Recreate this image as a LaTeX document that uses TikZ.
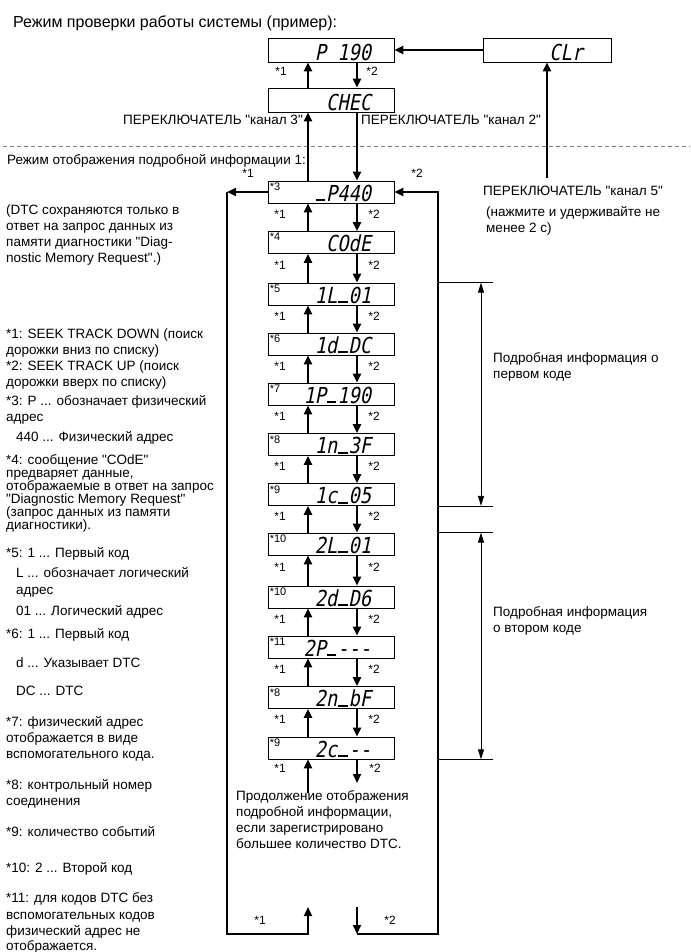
\documentclass[tikz,border=0pt]{standalone}
\usepackage{fontspec}
\setmainfont{Liberation Sans}[Ligatures=TeXOff]
\newfontfamily\segfont[FakeSlant=0.2,FakeStretch=0.85,Ligatures=TeXOff]{DejaVu Sans Mono}
\newcommand\segu{\makebox[0.512em][c]{\rule{0.42em}{0.1em}}}
\usetikzlibrary{arrows.meta,calc}
\begin{document}
\begin{tikzpicture}[x=1pt,y=-1pt,
  box/.style={draw, line width=0.7pt, minimum width=126pt, minimum height=22pt, inner sep=0},
  seg/.style={font=\segfont\fontsize{22}{22}\selectfont, anchor=base east, inner sep=0},
  arr/.style={line width=2pt, -{Triangle[length=9pt,width=8pt]}},
  ln/.style={line width=2pt},
  thinl/.style={line width=0.6pt},
  barr/.style={line width=0.8pt, {Triangle[length=10pt,width=6pt]}-{Triangle[length=10pt,width=6pt]}},
  txt/.style={font=\fontsize{13.5}{15}\selectfont, anchor=base west, inner sep=0, yshift=-4.6pt},
  txtr/.style={txt, anchor=base east},
  star/.style={font=\fontsize{12}{14}\selectfont, inner sep=0},
  tag/.style={font=\fontsize{11}{12}\selectfont, anchor=north west, inner sep=0},
]
\useasboundingbox (0,0) rectangle (690,952);

% dashed separator
\draw[gray, line width=0.8pt, dash pattern=on 4pt off 3pt] (3,146) -- (690,146);

% reference x positions
\coordinate (upx) at (308,0);
\coordinate (dnx) at (357,0);
\coordinate (lx) at (280,0);
\coordinate (rx) at (374,0);

% top boxes
\node[box, minimum height=24pt] (p190) at (331,50) {};
\node[seg] (tp190) at ($(p190.south east)+(-23,-2)$) {P 190};
\node[box, minimum height=24pt] (chec) at (331,100) {};
\node[seg] (tchec) at ($(chec.south east)+(-23,-2)$) {CHEC};
\node[box, minimum height=24pt, minimum width=128pt] (clr) at (547,50) {};
\node[seg] (tclr) at ($(clr.south east)+(-28,-2)$) {CLr};

% chain boxes
\foreach \i/\y/\t/\s in {1/192/{\segu P440}/3, 2/242.5/{COdE}/4, 3/294/{1L\segu 01}/5,
  4/344/{1d\segu DC}/6, 5/394/{1P\segu 190}/7, 6/444.5/{1n\segu 3F}/8, 7/494.5/{1c\segu 05}/9,
  8/544/{2L\segu 01}/10, 9/597/{2d\segu D6}/10, 10/647/{2P\segu ---}/11, 11/697.5/{2n\segu bF}/8,
  12/748/{2c\segu --}/9}{
  \node[box] (b\i) at (331,\y) {};
  \node[seg] (d\i) at ($(b\i.south east)+(-23,-2)$) {\t};
  \node[tag] (s\i) at ($(b\i.north west)+(2,2)$) {*\s};
}

% arrows between chain boxes
\foreach \i [evaluate=\i as \j using int(\i+1)] in {1,...,11}{
  \draw[arr] (b\j.north -| upx) -- (b\i.south -| upx);
  \draw[arr] (b\i.south -| dnx) -- (b\j.north -| dnx);
  \coordinate (m\i) at ($(b\i.south)!0.5!(b\j.north)+(0,-3)$);
  \node[star] (ka\i) at (m\i -| lx) {*1};
  \node[star] (kb\i) at (m\i -| rx) {*2};
}

% top arrows
\draw[arr] (chec.north -| upx) -- (p190.south -| upx);
\draw[arr] (p190.south -| dnx) -- (chec.north -| dnx);
\node[star] (kt1) at (281,71) {*1};
\node[star] (kt2) at (372,71) {*2};
\draw[arr] (b1.north -| upx) -- (chec.south -| upx);
\draw[arr] (chec.south -| dnx) -- (b1.north -| dnx);
\draw[arr] (clr.west) -- (p190.east);
\coordinate (k5) at (547,178);
\draw[arr] (k5) -- (clr.south);
\node[star] (kp1) at (248,173) {*1};
\node[star] (kp2) at (417,173) {*2};

% below last box
\coordinate (u12) at (308,793);
\coordinate (d12) at (357,783);
\draw[arr] (u12) -- (b12.south -| upx);
\draw[arr] (b12.south -| dnx) -- (d12);
\node[star] (kl1) at (280,768) {*1};
\node[star] (kl2) at (375,768) {*2};

% loops
\coordinate (lc) at (227,192);
\coordinate (lb) at (227,934);
\coordinate (ub) at (308,907);
\draw[arr] (b1.west) -- (lc);
\draw[arr] (lc) -- (lb) -| (ub);
\coordinate (db) at (357,907);
\coordinate (rb) at (438,934);
\coordinate (rc) at (438,192);
\draw[arr] (db) -- (db |- rb);
\draw[arr, line join=miter] (db |- rb) -- (rb) -- (rc) -- (b1.east);
\node[star] (kb1) at (260,920) {*1};
\node[star] (kb2) at (390,920) {*2};

% brackets
\foreach \a in {b3.north, b7.south, b8.north, b12.south}{
  \draw[thinl] (rc |- \a) -- ++(55,0);
}
\coordinate (bx) at (481,0);
\draw[barr] (bx |- b3.north) -- (bx |- b7.south);
\draw[barr] (bx |- b8.north) -- (bx |- b12.south);

% labels
\node[txt, font=\fontsize{16}{18}\selectfont, yshift=-0.8pt] (title) at (13,22) {Режим проверки работы системы (пример):};
\node[txtr] (sw3) at (303,120) {ПЕРЕКЛЮЧАТЕЛЬ "канал 3"};
\node[txt] (sw2) at (361,120) {ПЕРЕКЛЮЧАТЕЛЬ "канал 2"};
\node[txt] (sw5) at (483,191) {ПЕРЕКЛЮЧАТЕЛЬ "канал 5"};
\node[txt] (h1) at (486,212) {(нажмите и удерживайте не};
\node[txt] (h2) at (486,228) {менее 2 с)};
\node[txt] (f1) at (493,358) {Подробная информация о};
\node[txt] (f2) at (493,374) {первом коде};
\node[txt] (g1) at (493,612) {Подробная информация};
\node[txt] (g2) at (493,628) {о втором коде};
\node[txt] (c1) at (236,796) {Продолжение отображения};
\node[txt] (c2) at (236,812) {подробной информации,};
\node[txt] (c3) at (236,828) {если зарегистрировано};
\node[txt] (c4) at (236,844) {большее количество DTC.};

\foreach \xx/\yy/\tt [count=\n] in {
  7/160/{Режим отображения подробной информации 1:},
  6/210/{(DTC сохраняются только в},
  6/226/{ответ на запрос данных из},
  6/242/{памяти диагностики "Diag-},
  6/258/{nostic Memory Request".)},
  6/334/{*1: SEEK TRACK DOWN (поиск},
  6/350/{дорожки вниз по списку)},
  6/366/{*2: SEEK TRACK UP (поиск},
  6/382/{дорожки вверх по списку)},
  6/401/{*3: P ... обозначает физический},
  6/417/{адрес},
  16/437/{440 ... Физический адрес},
  6/460/{*4: сообщение "COdE"},
  6/473/{предваряет данные,},
  6/486/{отображаемые в ответ на запрос},
  6/499/{"Diagnostic Memory Request"},
  6/512/{(запрос данных из памяти},
  6/525/{диагностики).},
  6/553/{*5: 1 ... Первый код},
  16/573/{L ... обозначает логический},
  16/590/{адрес},
  16/611/{01 ... Логический адрес},
  6/634/{*6: 1 ... Первый код},
  16/663/{d ... Указывает DTC},
  16/691/{DC ... DTC},
  6/722/{*7: физический адрес},
  6/738/{отображается в виде},
  6/754/{вспомогательного кода.},
  6/785/{*8: контрольный номер},
  6/801/{соединения},
  6/832/{*9: количество событий},
  6/868/{*10: 2 ... Второй код},
  6/898/{*11: для кодов DTC без},
  6/915/{вспомогательных кодов},
  6/931/{физический адрес не},
  6/946/{отображается.}}{
  \node[txt] (L\n) at (\xx,\yy) {\tt};
}
\end{tikzpicture}
\end{document}
